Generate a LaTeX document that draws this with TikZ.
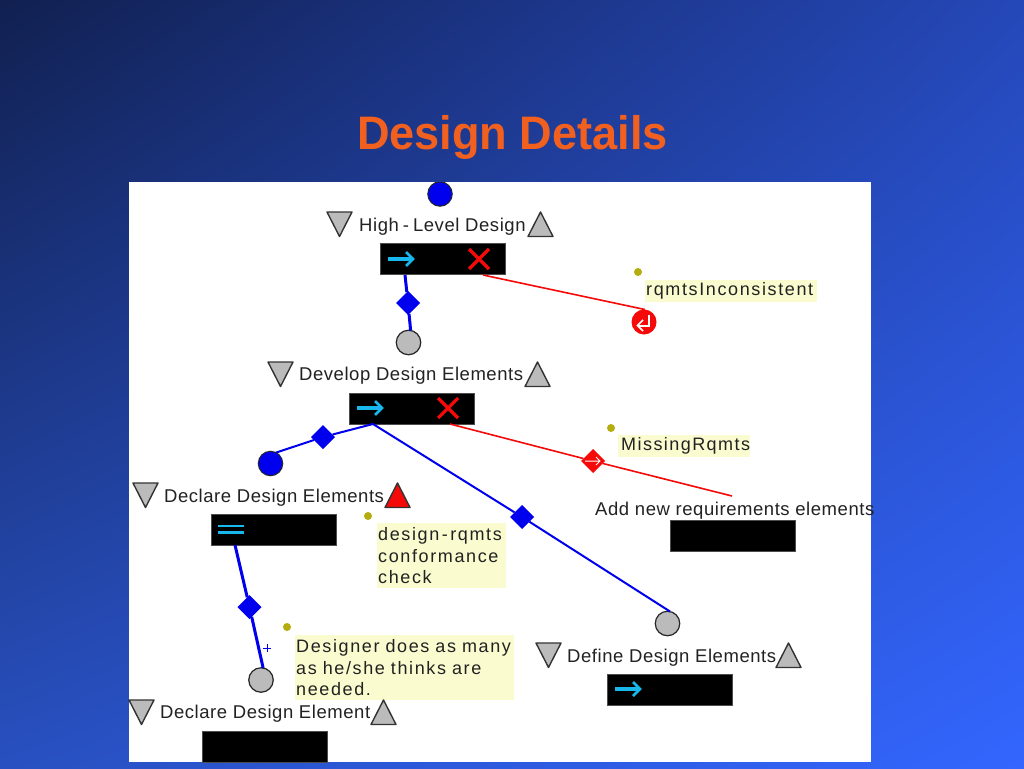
\documentclass[tikz,border=0pt]{standalone}
\usepackage{fontspec}
\setmainfont{Liberation Sans}
\newfontfamily\labfont[LetterSpace=3]{Liberation Sans}
\newfontfamily\notefont[LetterSpace=9]{Liberation Sans}
\newfontfamily\noteshort[LetterSpace=8]{Liberation Sans}
\newfontfamily\titlefont[FakeStretch=0.96]{Liberation Sans}
\usetikzlibrary{shapes.geometric}
\pgfdeclarefunctionalshading{slidegrad}{\pgfpoint{-50bp}{-50bp}}{\pgfpoint{50bp}{50bp}}{}{
  25 sub neg 50 div exch 25 add 50 div exch
  1 index 0.078 mul 0.067 add 1 index 3 index -0.035 mul 0.090 add mul add 3 1 roll
  1 index 0.157 mul 0.125 add 1 index 3 index -0.071 mul 0.189 add mul add 3 1 roll
  1 index 0.408 mul 0.314 add 1 index 3 index -0.161 mul 0.439 add mul add 3 1 roll
  pop pop
}
\definecolor{linkblue}{HTML}{0000EE}
\definecolor{graydot}{HTML}{BBBBBB}
\definecolor{tricol}{HTML}{BBBBBB}
\definecolor{cyanmark}{HTML}{18B8EC}
\definecolor{notebg}{HTML}{FAFBCF}
\definecolor{olive}{HTML}{B5AD10}
\definecolor{inktext}{HTML}{222222}
\definecolor{titleorange}{HTML}{F2601F}
\definecolor{failred}{HTML}{F50A0A}
\tikzset{
  stepblock/.style={fill=black,draw=black!70,line width=0.5pt,minimum width=125pt,minimum height=31pt,inner sep=0,outer sep=0,anchor=north west},
  labeltext/.style={font=\labfont\fontsize{18.5}{21}\selectfont,text=inktext,inner sep=0,anchor=base west},
  notebox/.style={fill=notebg,inner sep=0,anchor=north west,font=\notefont\fontsize{18}{21.5}\selectfont,text=inktext,align=left},
  dotblue/.style={circle,draw=black!85,line width=1pt,fill=linkblue,minimum size=24.5pt,inner sep=0,outer sep=0},
  dotgray/.style={circle,draw=black!85,line width=1.2pt,fill=graydot,minimum size=24.5pt,inner sep=0,outer sep=0},
  dotred/.style={circle,fill=failred,minimum size=25pt,inner sep=0,outer sep=0},
  dotolive/.style={circle,fill=olive,minimum size=8pt,inner sep=0},
  gemblue/.style={diamond,fill=linkblue,minimum width=24pt,minimum height=24pt,inner sep=0,outer sep=0},
  gemred/.style={diamond,fill=failred,minimum width=24pt,minimum height=24pt,inner sep=0,outer sep=0},
  bluethick/.style={draw=linkblue,line width=3pt},
  bluethin/.style={draw=linkblue,line width=2pt},
  redlink/.style={draw=failred,line width=1.6pt},
  trishape/.style={fill=tricol,draw=black!80,line width=1.4pt,line join=round},
  markcyan/.style={draw=cyanmark,line width=3.5pt},
  markred/.style={draw=failred,line width=3.2pt},
}
\newcommand{\tridown}[2]{\draw[trishape] (#1,#2) -- ++(25,0) -- ++(-12.5,24.5) -- cycle;}
\newcommand{\triup}[3][tricol]{\draw[trishape,fill=#1] (#2,#3+24.5) -- ++(25,0) -- ++(-12.5,-24.5) -- cycle;}
\newcommand{\cyanarrow}[2]{\draw[markcyan] (#1,#2) -- ++(23,0); \draw[draw=cyanmark,line width=2.6pt] (#1+18,#2-7) -- (#1+25,#2) -- (#1+18,#2+7);}
\newcommand{\redcross}[2]{\draw[markred] (#1-10,#2-10) -- (#1+10,#2+10) (#1-10,#2+10) -- (#1+10,#2-10);}
\begin{document}
\begin{tikzpicture}[x=1pt,y=-1pt]
\useasboundingbox (0,0) rectangle (1024,768);
\shade[shading=slidegrad] (0,0) rectangle (1024,768);
\node[anchor=base,inner sep=0,text=titleorange,font=\titlefont\bfseries\fontsize{47}{52}\selectfont] (title) at (512.5,149.3) {Design Details};
\fill[white] (129,182) rectangle (871,762);

% --- High-Level Design
\begin{scope}
\clip (129,182) rectangle (871,762);
\node[dotblue] (start) at (440,194) {};
\end{scope}
\tridown{327}{212}
\node[labeltext] (hld) at (359,231) {High\hspace{4pt}-\hspace{4pt}Level Design};
\triup{528}{212}
\node[stepblock] (hldbox) at (380,243.5) {};
\cyanarrow{388}{259}
\redcross{479}{259}
\coordinate (hldout) at (405,275);
\coordinate (hldfail) at (483,275);
\node[gemblue] (g1) at (408,303) {};
\node[dotgray] (d1) at (408.5,342.5) {};
\draw[bluethick] (hldout) -- (g1);
\draw[bluethick] (g1) -- (d1.80);
\node[dotred] (r1) at (644,322) {};
\draw[redlink] (hldfail) -- (r1.85);
\draw[white,line width=2pt] (649,314.5) -- (649,325.5) -- (638,325.5);
\draw[white,line width=1.6pt] (643,320) -- (637.5,325.5) -- (643,331);
\node[dotolive] (o1) at (638,272) {};
\node[notebox,minimum width=172pt,minimum height=22pt,text width=170pt] (n1) at (645,280) {\raisebox{-2.5pt}{rqmtsInconsistent}};

% --- Develop Design Elements
\tridown{268}{362}
\node[labeltext] (dde) at (299,380) {Develop Design Elements};
\triup{525}{362}
\node[stepblock] (ddebox) at (349,393) {};
\cyanarrow{357}{408}
\redcross{448}{408}
\coordinate (ddeout) at (373,424);
\coordinate (ddefail) at (450,424);
\node[gemblue] (g2) at (323,437) {};
\node[dotblue] (d2) at (270.5,463.5) {};
\draw[bluethin] (ddeout) -- (g2);
\draw[bluethin] (g2) -- (d2.63);
\node[gemblue] (g3) at (522,517) {};
\node[dotgray] (d3) at (667.5,623.5) {};
\draw[bluethin] (ddeout) -- (g3);
\draw[bluethin] (g3) -- (d3.78);
\node[gemred] (g4) at (593,461) {};
\coordinate (addin) at (732,496);
\draw[redlink] (ddefail) -- (g4);
\draw[redlink] (g4) -- (addin);
\draw[white,line width=1pt] (585,461) -- (600,461) (596,457) -- (600,461) -- (596,465);
\node[dotolive] (o2) at (611,428) {};
\node[notebox,minimum width=132pt,minimum height=22pt,text width=130pt] (n2) at (618,435) {\raisebox{-2.5pt}{\noteshort\hspace*{2pt}MissingRqmts}};

% --- Add new requirements elements
\node[labeltext] (anr) at (595,515) {Add new requirements elements};
\node[stepblock] (anrbox) at (670,520) {};

% --- Define Design Elements
\tridown{536}{643}
\node[labeltext] (defe) at (567,662) {Define Design Elements};
\triup{776}{643}
\node[stepblock] (defbox) at (607,674) {};
\cyanarrow{615}{689}

% --- Declare Design Elements
\tridown{133}{483}
\node[labeltext] (decs) at (164,502) {Declare Design Elements};
\triup[failred]{385}{483}
\node[stepblock] (decsbox) at (211,514) {};
\draw[draw=cyanmark,line width=2.6pt] (218,526) -- (244,526) (218,532.5) -- (244,532.5);
\coordinate (decsout) at (235,545);
\node[gemblue] (g5) at (249.5,607) {};
\node[dotgray] (d5) at (261,680) {};
\draw[bluethick] (decsout) -- (g5);
\draw[bluethick] (g5) -- (d5.80);
\draw[linkblue,line width=0.8pt] (263,648) -- (271,648) (267,644) -- (267,652);
\node[dotolive] (o3) at (368,516) {};
\node[notebox,minimum width=129pt,minimum height=65pt,text width=127pt] (n3) at (377,523) {design\hspace{2.5pt}-\hspace{2.5pt}rqmts\\conformance\\check};
\node[dotolive] (o4) at (287,627) {};
\node[notebox,minimum width=219pt,minimum height=65pt,text width=217pt] (n4) at (295,635) {Designer does as many\\as he/she thinks are\\needed.};

% --- Declare Design Element
\tridown{129}{700}
\node[labeltext] (dec) at (160,718) {Declare Design Element};
\triup{371}{700}
\node[stepblock] (decbox) at (202,731) {};
\end{tikzpicture}
\end{document}
